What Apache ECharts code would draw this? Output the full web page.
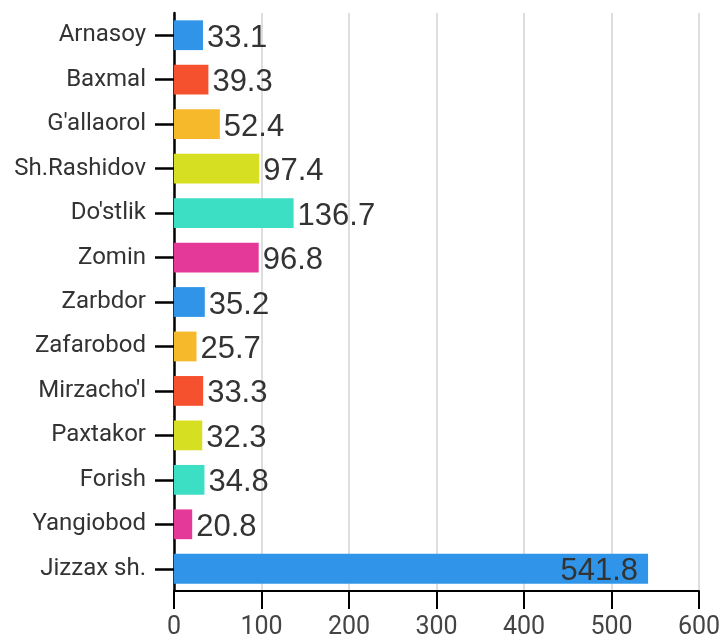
<!DOCTYPE html>
<html>
<head>
<meta charset="utf-8">
<script src="https://cdn.jsdelivr.net/npm/echarts@6/dist/echarts.min.js"></script>
<style>
  html, body { margin: 0; padding: 0; background: #fff; }
  #chart { width: 720px; height: 636px; }
</style>
</head>
<body>
<div id="chart"></div>
<script>
// categories top to bottom
const districts = ["Arnasoy", "Baxmal", "G'allaorol", "Sh.Rashidov", "Do'stlik", "Zomin",
  "Zarbdor", "Zafarobod", "Mirzacho'l", "Paxtakor", "Forish", "Yangiobod", "Jizzax sh."]
const values = [33.1, 39.3, 52.4, 97.4, 136.7, 96.8, 35.2, 25.7, 33.3, 32.3, 34.8, 20.8, 541.8]

// bar colours as in the picture (palette index per category)
const palette = ['#3094e8', '#f5512e', '#f6b92b', '#d7df23', '#3ddfc4', '#e5399a']
const colorIdx = [0, 1, 2, 3, 4, 5, 0, 2, 1, 3, 4, 5, 0]

const chart = echarts.init(document.getElementById('chart'))

const barData = values.map((v, i) => ({
  value: v,
  itemStyle: { color: palette[colorIdx[i]] },
  label: v > 400 ? { position: 'insideRight', distance: 10 } : {}
}))

chart.setOption({
  animation: false,
  grid: { left: 174, right: 21, top: 13, bottom: 45, containLabel: false, outerBoundsMode: 'none' },
  xAxis: {
    type: 'value',
    min: 0,
    max: 600,
    interval: 100,
    axisLine: { show: true, lineStyle: { color: '#000', width: 2 } },
    axisTick: { show: true, length: 18, lineStyle: { color: '#000', width: 2 } },
    axisLabel: { show: true, fontFamily: 'Roboto', fontSize: 25, color: '#444', margin: 24 },
    splitLine: { show: true, lineStyle: { color: '#dedede', width: 2 } }
  },
  yAxis: {
    type: 'category',
    inverse: true,
    data: districts,
    axisLine: { show: true, lineStyle: { color: '#000', width: 2.5 } },
    axisTick: { show: true, length: 19, alignWithLabel: true, lineStyle: { color: '#000', width: 2.5 } },
    axisLabel: { fontFamily: 'Roboto', fontSize: 24, color: '#333', margin: 28 }
  },
  series: [{
    type: 'bar',
    data: barData,
    barWidth: '67%',
    label: {
      show: true,
      position: 'right',
      distance: 4,
      offset: [0, 3],
      fontFamily: 'Liberation Sans',
      fontSize: 31,
      color: '#333'
    }
  }]
})
</script>
</body>
</html>
